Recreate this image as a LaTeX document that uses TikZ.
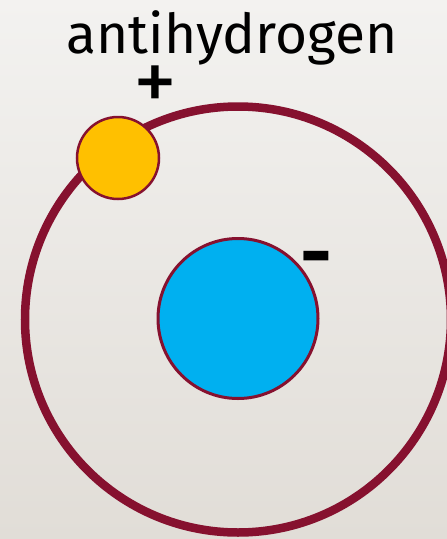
\documentclass[tikz,border=0pt]{standalone}
\usepackage{fontspec}
\setmainfont{Fira Sans}
\definecolor{orbitred}{HTML}{86112F}
\definecolor{nucleusblue}{HTML}{00B0F0}
\definecolor{positronorange}{HTML}{FFC000}
\definecolor{bgtop}{HTML}{F3F2F0}
\definecolor{bgbottom}{HTML}{E1DDD7}

\begin{document}
\begin{tikzpicture}[x=1pt, y=-1pt,
    charge/.style={inner sep=0pt}]
        \shade[top color=bgtop, bottom color=bgbottom] (0,0) rectangle (447,539);
        \useasboundingbox (0,0) rectangle (447,539);
        \draw[orbitred, line width=8.5pt] (238,319.5) circle (213pt); % orbit
        \filldraw[fill=nucleusblue, draw=orbitred, line width=3pt] (238,318.5) circle (80pt); % antiproton
        \filldraw[fill=positronorange, draw=orbitred, line width=2.5pt] (118,158) circle (41pt); % positron
        \node[anchor=base, inner sep=0pt, font=\fontsize{55}{60}\selectfont] (title) at (232,53) {antihydrogen};
        \node[charge, font=\fontsize{88}{88}\selectfont] (plus) at (155,89) {+};
        \node[charge, font=\bfseries\fontsize{78}{78}\selectfont] (minus) at (316,266) {-};
\end{tikzpicture}
\end{document}
